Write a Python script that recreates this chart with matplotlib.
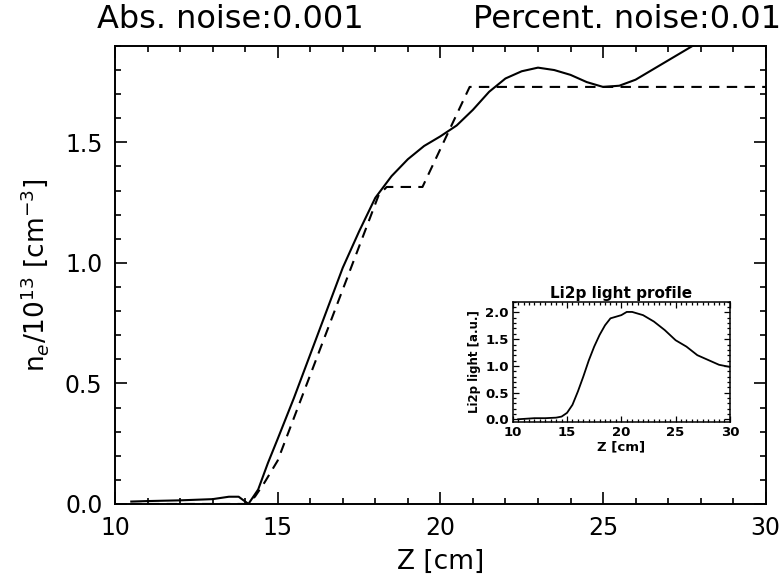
import matplotlib
matplotlib.use("Agg")
import matplotlib.pyplot as plt
from matplotlib.ticker import MultipleLocator

plt.rcParams['font.family'] = ['DejaVu Sans']
plt.rcParams['mathtext.fontset'] = 'dejavusans'

# Main panel: reconstructed density (solid) and model profile (dashed)
z_fit = [10.5, 11, 12, 13, 13.5, 13.8, 14.1, 14.4, 14.7, 15, 15.5, 16, 16.5, 17, 17.5,
         18, 18.5, 19, 19.5, 20, 20.5, 21, 21.5, 22, 22.5, 23, 23.5, 24, 24.5, 25,
         25.5, 26, 26.5, 27, 27.5, 28, 28.5]
ne_fit = [0.01, 0.012, 0.015, 0.02, 0.03, 0.03, 0.0, 0.06, 0.17, 0.27, 0.44, 0.62, 0.80,
          0.98, 1.13, 1.27, 1.36, 1.43, 1.485, 1.525, 1.57, 1.635, 1.71, 1.765, 1.795,
          1.81, 1.80, 1.78, 1.75, 1.73, 1.735, 1.76, 1.80, 1.84, 1.88, 1.92, 1.96]

z_model = [10.5, 14.0, 14.3, 14.6, 15.0, 18.1, 18.35, 19.45, 20.9, 30.0]
ne_model = [0.0, 0.0, 0.03, 0.09, 0.18, 1.28, 1.315, 1.315, 1.73, 1.73]

# Inset: Li2p light profile
z_li = [10.5, 12, 13, 14, 14.5, 15, 15.5, 16, 16.5, 17, 17.5, 18, 18.5, 19, 19.5, 20,
        20.5, 21, 22, 23, 24, 25, 26, 27, 28, 29, 30]
li_light = [0.0, 0.02, 0.02, 0.03, 0.05, 0.12, 0.27, 0.52, 0.80, 1.10, 1.36, 1.58, 1.76,
            1.89, 1.92, 1.95, 2.01, 2.01, 1.95, 1.83, 1.67, 1.48, 1.36, 1.20, 1.11, 1.02,
            0.98]

fig = plt.figure(figsize=(7.84, 5.86), dpi=100)
ax = fig.add_axes([0.1467, 0.140, 0.830, 0.7816])
ax.plot(z_fit, ne_fit, color='black', lw=1.5)
ax.plot(z_model, ne_model, color='black', lw=1.5, linestyle=(0, (5, 3.5)))
ax.set_xlim(10, 30)
ax.set_ylim(0, 1.9)
ax.xaxis.set_major_locator(MultipleLocator(5))
ax.xaxis.set_minor_locator(MultipleLocator(1))
ax.yaxis.set_major_locator(MultipleLocator(0.5))
ax.yaxis.set_minor_locator(MultipleLocator(0.1))
ax.set_yticks([0.0, 0.5, 1.0, 1.5])
ax.set_yticklabels(['0.0', '0.5', '1.0', '1.5'])
ax.tick_params(which='both', direction='in', top=True, right=True, labelsize=17, width=1.2)
ax.tick_params(which='major', length=8.5, pad=9)
ax.tick_params(which='minor', length=4.5)
for s in ax.spines.values():
    s.set_linewidth(1.4)
ax.set_xlabel('Z [cm]', fontsize=19, labelpad=6)
ax.set_ylabel(r'n$_e$/10$^{13}$ [cm$^{-3}$]', fontsize=19, labelpad=10)

fig.text(0.124, 0.966, 'Abs. noise:0.001', fontsize=23, ha='left', va='center')
fig.text(0.996, 0.966, 'Percent. noise:0.01', fontsize=23, ha='right', va='center')

ins = fig.add_axes([0.654, 0.280, 0.277, 0.205])
ins.plot(z_li, li_light, color='black', lw=1.3)
ins.set_xlim(10, 30)
ins.set_ylim(-0.05, 2.2)
ins.xaxis.set_major_locator(MultipleLocator(5))
ins.xaxis.set_minor_locator(MultipleLocator(0.5))
ins.yaxis.set_major_locator(MultipleLocator(0.5))
ins.yaxis.set_minor_locator(MultipleLocator(0.1))
ins.tick_params(which='both', direction='in', top=True, right=True, labelsize=9.5, width=0.9)
ins.tick_params(which='major', length=4, pad=3)
ins.tick_params(which='minor', length=2)
for lab in ins.get_xticklabels() + ins.get_yticklabels():
    lab.set_fontweight('bold')
ins.set_title('Li2p light profile', fontsize=11, fontweight='bold', pad=3)
ins.set_xlabel('Z [cm]', fontsize=9.5, fontweight='bold', labelpad=1)
ins.set_ylabel('Li2p light [a.u.]', fontsize=8.5, fontweight='bold', labelpad=3)
for s in ins.spines.values():
    s.set_linewidth(1.1)

fig.savefig('out.png', dpi=100, facecolor='white')
